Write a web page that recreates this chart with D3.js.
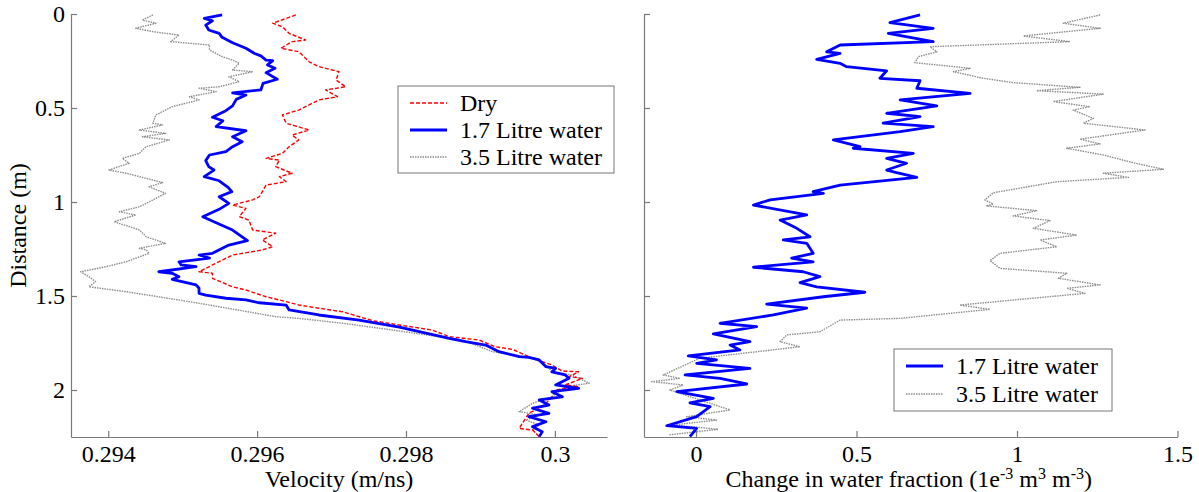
<!DOCTYPE html>
<html>
<head>
<meta charset="utf-8">
<script src="https://cdn.jsdelivr.net/npm/d3@7"></script>
<style>
  body { margin: 0; background: #fff; }
  svg text { font-family: "Liberation Serif", "Times New Roman", serif; }
</style>
</head>
<body>
<div id="chart"></div>
<script>

// distance ticks (m) and x ticks for both panels
var depthTicks = [0, 0.5, 1, 1.5, 2];
var velTicks = [0.294, 0.296, 0.298, 0.3];
var fracTicks = [0, 0.5, 1, 1.5];

// [distance (m), velocity (m/ns)]
var dryVel = [
  [0.005,0.29652],[0.049,0.29621],[0.068,0.29634],[0.103,0.29643],[0.138,0.29665],[0.147,0.29647],
  [0.182,0.29632],[0.201,0.29656],[0.254,0.29670],[0.280,0.29683],[0.298,0.29701],[0.307,0.29710],
  [0.351,0.29706],[0.387,0.29719],[0.404,0.29692],[0.440,0.29708],[0.457,0.29683],[0.511,0.29656],
  [0.537,0.29634],[0.581,0.29639],[0.617,0.29670],[0.644,0.29647],[0.670,0.29656],[0.706,0.29643],
  [0.741,0.29634],[0.768,0.29612],[0.777,0.29630],[0.812,0.29625],[0.847,0.29647],[0.865,0.29630],
  [0.892,0.29639],[0.910,0.29612],[0.972,0.29603],[0.989,0.29594],[1.016,0.29567],[1.034,0.29585],
  [1.078,0.29576],[1.096,0.29589],[1.149,0.29594],[1.166,0.29625],[1.202,0.29607],[1.238,0.29621],
  [1.255,0.29607],[1.282,0.29567],[1.335,0.29540],[1.371,0.29522],[1.379,0.29540],[1.406,0.29540],
  [1.451,0.29567],[1.468,0.29585],[1.504,0.29612],[1.530,0.29639],[1.548,0.29656],[1.565,0.29683],
  [1.584,0.29715],[1.631,0.29755],[1.654,0.29791],[1.681,0.29835],[1.716,0.29858],[1.734,0.29898],
  [1.770,0.29920],[1.784,0.29943],[1.831,0.29970],[1.867,0.29996],[1.899,0.30010],[1.903,0.30032],
  [1.929,0.30019],[1.938,0.30037],[1.973,0.30014],[1.982,0.30032],[2.000,0.30001],[2.036,0.29996],
  [2.071,0.29988],[2.097,0.29979],[2.124,0.29965],[2.204,0.29952],[2.213,0.29970],[2.248,0.29979]
];

var wet17Vel = [
  [0.005,0.29553],[0.023,0.29529],[0.036,0.29540],[0.059,0.29531],[0.085,0.29535],[0.103,0.29549],
  [0.124,0.29553],[0.153,0.29567],[0.182,0.29585],[0.209,0.29596],[0.223,0.29605],[0.245,0.29612],
  [0.248,0.29621],[0.271,0.29614],[0.289,0.29624],[0.312,0.29612],[0.347,0.29627],[0.369,0.29608],
  [0.404,0.29605],[0.419,0.29567],[0.431,0.29585],[0.454,0.29572],[0.489,0.29567],[0.514,0.29558],
  [0.549,0.29540],[0.568,0.29554],[0.599,0.29545],[0.621,0.29585],[0.653,0.29567],[0.679,0.29580],
  [0.706,0.29567],[0.732,0.29558],[0.750,0.29536],[0.780,0.29531],[0.812,0.29535],[0.830,0.29542],
  [0.865,0.29529],[0.887,0.29549],[0.922,0.29561],[0.945,0.29566],[0.972,0.29549],[1.007,0.29562],
  [1.039,0.29549],[1.078,0.29527],[1.110,0.29545],[1.149,0.29567],[1.206,0.29587],[1.229,0.29562],
  [1.273,0.29540],[1.282,0.29522],[1.299,0.29536],[1.318,0.29495],[1.335,0.29498],[1.344,0.29518],
  [1.371,0.29468],[1.379,0.29486],[1.397,0.29495],[1.411,0.29486],[1.441,0.29518],[1.459,0.29522],
  [1.486,0.29522],[1.495,0.29531],[1.512,0.29558],[1.521,0.29585],[1.536,0.29603],[1.548,0.29639],
  [1.574,0.29643],[1.601,0.29683],[1.628,0.29737],[1.666,0.29791],[1.725,0.29858],[1.743,0.29880],
  [1.761,0.29907],[1.796,0.29925],[1.823,0.29952],[1.827,0.29965],[1.840,0.29979],[1.876,0.29988],
  [1.885,0.30001],[1.903,0.29996],[1.920,0.30014],[1.938,0.30019],[1.973,0.30001],[1.991,0.30032],
  [2.009,0.29996],[2.036,0.30010],[2.053,0.29979],[2.080,0.29992],[2.097,0.29970],[2.124,0.29992],
  [2.142,0.29965],[2.169,0.29988],[2.195,0.29970],[2.222,0.29983],[2.248,0.29979]
];

var wet35Vel = [
  [0.005,0.29460],[0.032,0.29446],[0.049,0.29464],[0.076,0.29437],[0.094,0.29460],[0.112,0.29495],
  [0.147,0.29484],[0.165,0.29536],[0.191,0.29536],[0.227,0.29553],[0.245,0.29567],[0.262,0.29576],
  [0.298,0.29567],[0.307,0.29594],[0.334,0.29562],[0.360,0.29576],[0.387,0.29549],[0.395,0.29522],
  [0.413,0.29545],[0.440,0.29509],[0.457,0.29522],[0.493,0.29486],[0.537,0.29464],[0.581,0.29460],
  [0.590,0.29473],[0.617,0.29442],[0.635,0.29477],[0.653,0.29446],[0.670,0.29482],[0.706,0.29451],
  [0.741,0.29442],[0.768,0.29419],[0.794,0.29428],[0.830,0.29401],[0.847,0.29424],[0.874,0.29451],
  [0.897,0.29473],[0.919,0.29455],[0.954,0.29477],[0.989,0.29460],[1.025,0.29442],[1.052,0.29415],
  [1.069,0.29437],[1.105,0.29408],[1.149,0.29442],[1.185,0.29451],[1.220,0.29477],[1.246,0.29442],
  [1.255,0.29451],[1.273,0.29455],[1.318,0.29424],[1.344,0.29397],[1.371,0.29363],[1.397,0.29374],
  [1.424,0.29383],[1.451,0.29374],[1.477,0.29424],[1.530,0.29509],[1.557,0.29549],[1.610,0.29625],
  [1.619,0.29656],[1.645,0.29715],[1.681,0.29782],[1.734,0.29876],[1.796,0.29916],[1.831,0.29970],
  [1.867,0.29988],[1.903,0.29996],[1.920,0.30023],[1.964,0.30046],[1.982,0.30014],[2.036,0.29996],
  [2.071,0.29970],[2.115,0.29952],[2.133,0.29979],[2.160,0.29961],[2.186,0.29979],[2.213,0.29970],
  [2.248,0.29979]
];

// [distance (m), change in water fraction (1e-3 m3 m-3)]
var wet17Frac = [
  [0.005,0.698],[0.046,0.604],[0.076,0.739],[0.103,0.599],[0.147,0.739],[0.165,0.449],[0.201,0.407],
  [0.209,0.449],[0.241,0.376],[0.262,0.449],[0.280,0.469],[0.302,0.594],[0.342,0.573],[0.355,0.698],
  [0.395,0.688],[0.422,0.854],[0.457,0.636],[0.489,0.750],[0.528,0.594],[0.546,0.698],[0.581,0.583],
  [0.599,0.739],[0.626,0.636],[0.670,0.428],[0.706,0.511],[0.714,0.490],[0.741,0.677],[0.768,0.594],
  [0.794,0.656],[0.830,0.594],[0.844,0.625],[0.869,0.688],[0.910,0.449],[0.945,0.365],[0.954,0.397],
  [0.989,0.231],[1.016,0.179],[1.069,0.345],[1.096,0.262],[1.140,0.314],[1.185,0.355],[1.202,0.272],
  [1.220,0.345],[1.273,0.365],[1.299,0.298],[1.318,0.365],[1.347,0.179],[1.371,0.334],[1.397,0.386],
  [1.429,0.324],[1.451,0.376],[1.480,0.526],[1.504,0.397],[1.543,0.220],[1.565,0.345],[1.601,0.241],
  [1.645,0.075],[1.663,0.189],[1.702,0.054],[1.743,0.168],[1.761,0.106],[1.787,0.137],[1.819,-0.024],
  [1.840,0.064],[1.858,0.002],[1.885,0.168],[1.920,-0.034],[1.938,0.075],[1.968,0.158],[2.009,-0.060],
  [2.044,0.054],[2.068,-0.019],[2.089,0.044],[2.142,0.002],[2.190,-0.091],[2.204,0.002],[2.248,-0.019]
];

var wet35Frac = [
  [0.005,1.259],[0.049,1.144],[0.076,1.259],[0.117,1.020],[0.147,1.165],[0.174,0.729],[0.201,0.750],
  [0.227,0.693],[0.259,0.682],[0.289,0.854],[0.307,0.802],[0.342,0.895],[0.365,0.988],[0.390,1.196],
  [0.408,1.061],[0.426,1.269],[0.466,1.113],[0.493,1.227],[0.511,1.175],[0.555,1.238],[0.581,1.207],
  [0.617,1.399],[0.666,1.196],[0.691,1.259],[0.714,1.155],[0.750,1.269],[0.791,1.362],[0.826,1.456],
  [0.847,1.269],[0.869,1.347],[0.892,1.124],[0.951,0.926],[0.989,0.900],[1.011,0.926],[1.021,0.906],
  [1.046,1.061],[1.074,0.988],[1.099,1.103],[1.140,1.051],[1.176,1.186],[1.202,1.072],[1.238,1.124],
  [1.273,0.947],[1.312,0.916],[1.353,0.947],[1.379,1.155],[1.406,1.129],[1.441,1.259],[1.459,1.155],
  [1.486,1.212],[1.548,0.822],[1.571,0.916],[1.619,0.636],[1.628,0.449],[1.690,0.386],[1.707,0.283],
  [1.743,0.262],[1.770,0.324],[1.831,0.012],[1.920,-0.102],[1.938,-0.050],[1.956,-0.138],[1.973,-0.040],
  [2.000,-0.081],[2.106,0.106],[2.142,-0.029],[2.160,0.064],[2.186,-0.071],[2.209,0.069],[2.239,-0.086]
];

var legendLeft = ["Dry", "1.7 Litre water", "3.5 Litre water"];
var legendRight = ["1.7 Litre water", "3.5 Litre water"];

var width = 1199, height = 492;
var axisColor = "#7a7a7a";
var fontSize = 24;
var serif = "'Liberation Serif', 'Times New Roman', serif";

var styles = {
  "Dry": { stroke: "#ff0000", width: 1.4, dash: "4,2" },
  "1.7 Litre water": { stroke: "#0000ff", width: 2.8, dash: null },
  "3.5 Litre water": { stroke: "#8c8c8c", width: 1.4, dash: "1.5,1" }
};

var svg = d3.select("#chart").append("svg")
  .attr("width", width)
  .attr("height", height);

var yScale = d3.scaleLinear()
  .domain([0, 2.25])
  .range([14, 437]);

var xVel = d3.scaleLinear()
  .domain([0.2935, 0.3007])
  .range([71, 607]);

var xFrac = d3.scaleLinear()
  .domain([-0.162, 1.5])
  .range([644, 1177.5]);

var fmt = d3.format("~g");

function styleAxis(g) {
  g.attr("font-family", serif).attr("font-size", fontSize);
  g.select(".domain").attr("stroke", axisColor).attr("stroke-width", 1.2);
  g.selectAll(".tick line").attr("stroke", axisColor).attr("stroke-width", 1.2);
  g.selectAll(".tick text")
    .attr("fill", "#000")
    .style("font-family", serif)
    .style("font-size", fontSize + "px");
}

function drawPanel(xScale, ticks, showYLabels) {

  var yAxis = d3.axisLeft(yScale)
    .tickValues(depthTicks)
    .tickFormat(showYLabels ? fmt : "")
    .tickSizeInner(-6)
    .tickSizeOuter(0)
    .tickPadding(6);

  svg.append("g")
    .attr("transform", "translate(" + xScale.range()[0] + ",0)")
    .call(yAxis)
    .call(styleAxis);

  svg.append("g")
    .attr("transform", "translate(0," + yScale.range()[1] + ")")
    .call(d3.axisBottom(xScale)
      .tickValues(ticks)
      .tickFormat(fmt)
      .tickSizeInner(-6)
      .tickSizeOuter(0)
      .tickPadding(8))
    .call(styleAxis);
}

function drawLine(data, xScale, name) {
  var st = styles[name];
  var line = d3.line()
    .x(function(d) { return xScale(d[1]); })
    .y(function(d) { return yScale(d[0]); });

  svg.append("path")
    .datum(data)
    .attr("d", line)
    .attr("fill", "none")
    .attr("stroke", st.stroke)
    .attr("stroke-width", st.width)
    .attr("stroke-dasharray", st.dash)
    .attr("stroke-linejoin", "round");
}

function drawLegend(names, x, y, w, rowH) {
  var h = names.length * rowH + 6;
  var lg = svg.append("g")
    .attr("transform", "translate(" + x + "," + y + ")");

  lg.append("rect")
    .attr("width", w)
    .attr("height", h)
    .attr("fill", "#fff")
    .attr("stroke", "#777")
    .attr("stroke-width", 1);

  var rows = lg.selectAll("g.row")
    .data(names)
    .enter().append("g")
    .attr("class", "row")
    .attr("transform", function(d, i) {
      return "translate(0," + (17 + i * rowH) + ")";
    });

  rows.append("line")
    .attr("x1", 12)
    .attr("x2", 49)
    .attr("stroke", function(d) { return styles[d].stroke; })
    .attr("stroke-width", function(d) { return styles[d].width; })
    .attr("stroke-dasharray", function(d) { return styles[d].dash; });

  rows.append("text")
    .attr("x", 62)
    .attr("y", 8)
    .style("font-size", fontSize + "px")
    .attr("fill", "#000")
    .text(function(d) { return d; });
}

drawPanel(xVel, velTicks, true);
drawPanel(xFrac, fracTicks, false);

drawLine(wet35Vel, xVel, "3.5 Litre water");
drawLine(dryVel, xVel, "Dry");
drawLine(wet17Vel, xVel, "1.7 Litre water");

drawLine(wet35Frac, xFrac, "3.5 Litre water");
drawLine(wet17Frac, xFrac, "1.7 Litre water");

drawLegend(legendLeft, 398, 86, 216, 27);
drawLegend(legendRight, 894, 349, 218, 28);

// axis titles
svg.append("text")
  .attr("transform", "translate(26," + ((yScale.range()[0] + yScale.range()[1]) / 2) + ") rotate(-90)")
  .attr("text-anchor", "middle")
  .style("font-size", fontSize + "px")
  .text("Distance (m)");

svg.append("text")
  .attr("x", (xVel.range()[0] + xVel.range()[1]) / 2)
  .attr("y", 487)
  .attr("text-anchor", "middle")
  .style("font-size", fontSize + "px")
  .text("Velocity (m/ns)");

var fracTitle = svg.append("text")
  .attr("x", (xFrac.range()[0] + xFrac.range()[1]) / 2 - 2)
  .attr("y", 487)
  .attr("text-anchor", "middle")
  .style("font-size", fontSize + "px");

var titleParts = [
  ["Change in water fraction (1e", false],
  ["-3", true],
  [" m", false],
  ["3", true],
  [" m", false],
  ["-3", true],
  [")", false]
];

titleParts.forEach(function(p) {
  fracTitle.append("tspan")
    .style("font-size", p[1] ? "16px" : fontSize + "px")
    .attr("baseline-shift", p[1] ? "50%" : null)
    .text(p[0]);
});

</script>
</body>
</html>
